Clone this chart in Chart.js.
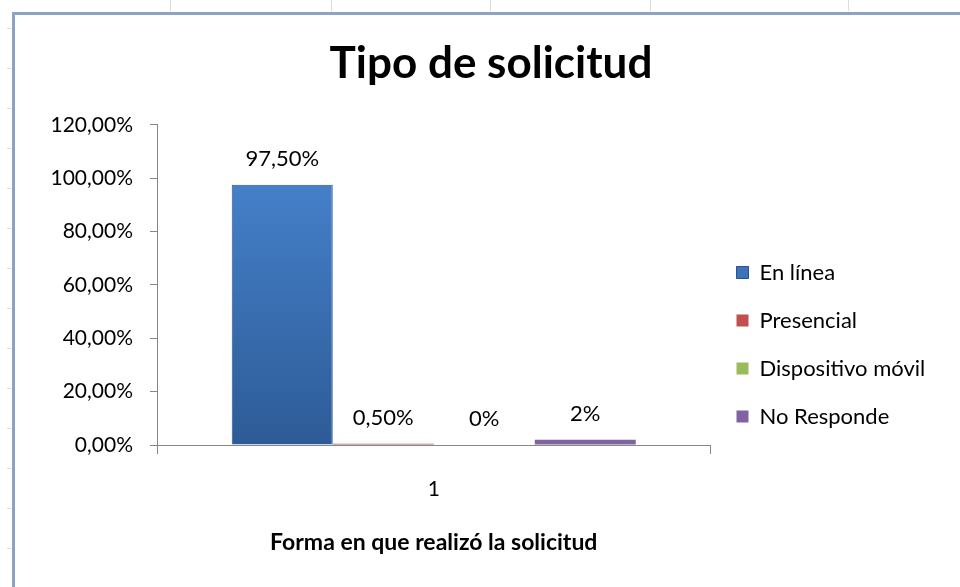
<!DOCTYPE html>
<html>
<head>
<meta charset="utf-8">
<title>Tipo de solicitud</title>
<script src="https://cdn.jsdelivr.net/npm/chart.js@4.4.1/dist/chart.umd.min.js"></script>
<style>
    html, body { margin: 0; padding: 0; background: #fff; overflow: hidden; }
    .sheet { position: relative; width: 960px; height: 587px; }
    .frame {
        position: absolute; left: 12px; top: 12px; width: 980px; height: 600px;
        border-left: 3px solid #8aa3c6; border-top: 3px solid #8aa3c6;
    }
    .tick-top { position: absolute; top: 0; width: 1px; height: 11px; background: #d6dbe4; }
    .tick-left { position: absolute; left: 7px; width: 4px; height: 1px; background: #d6dbe4; }
    #chart { position: absolute; left: 0; top: 0; }
</style>
</head>
<body>
<div class="sheet" id="sheet">
    <div class="frame"></div>
    <canvas id="chart" width="960" height="587"></canvas>
</div>

<script>
// Chart data
const chartTitle = 'Tipo de solicitud';
const xAxisTitle = 'Forma en que realizó la solicitud';
const categories = ['1'];
const seriesNames = ['En línea', 'Presencial', 'Dispositivo móvil', 'No Responde'];
const seriesValues = [97.5, 0.5, 0, 2];
const valueLabels = ['97,50%', '0,50%', '0%', '2%'];
const seriesColors = ['#3d72b8', '#c0504d', '#9bbb59', '#8064a2'];
const yTicks = [0, 20, 40, 60, 80, 100, 120];

// Spreadsheet grid fragments around the chart object
function drawSheetTicks() {
    const sheet = document.getElementById('sheet');
    [170, 331, 490, 650, 848].forEach(x => {
        const t = document.createElement('div');
        t.className = 'tick-top';
        t.style.left = x + 'px';
        sheet.insertBefore(t, sheet.firstChild);
    });
    for (let y = 28; y < 587; y += 40) {
        const t = document.createElement('div');
        t.className = 'tick-left';
        t.style.top = y + 'px';
        sheet.insertBefore(t, sheet.firstChild);
    }
}

// Excel-like shading for the big bar
function barFill(index) {
    return function(context) {
        const chart = context.chart;
        const area = chart.chartArea;
        if (!area || index !== 0) return seriesColors[index];
        const g = chart.ctx.createLinearGradient(0, area.top, 0, area.bottom);
        g.addColorStop(0, '#4a88d4');
        g.addColorStop(1, '#2d5b97');
        return g;
    };
}

// Value labels above the bars
const valueLabelPlugin = {
    id: 'valueLabels',
    afterDatasetsDraw(chart) {
        const ctx = chart.ctx;
        ctx.save();
        ctx.font = '22px Lato';
        ctx.fillStyle = '#000';
        ctx.textAlign = 'center';
        ctx.textBaseline = 'middle';
        chart.data.datasets.forEach((ds, i) => {
            const meta = chart.getDatasetMeta(i);
            meta.data.forEach(bar => {
                ctx.fillText(valueLabels[i], bar.x, bar.y - 26);
            });
        });
        ctx.restore();
    }
};

document.addEventListener('DOMContentLoaded', function() {
    drawSheetTicks();

    const datasets = seriesNames.map((name, i) => ({
        label: name,
        data: [seriesValues[i]],
        backgroundColor: barFill(i),
        borderColor: i === 0 ? '#2a5189' : seriesColors[i],
        borderWidth: i === 0 ? 1 : 0,
        categoryPercentage: 0.73,
        barPercentage: 1
    }));

    new Chart(document.getElementById('chart'), {
        type: 'bar',
        data: { labels: categories, datasets: datasets },
        plugins: [valueLabelPlugin],
        options: {
            responsive: false,
            animation: false,
            layout: { padding: { left: 52, right: 30, top: 0, bottom: 0 } },
            plugins: {
                title: {
                    display: true,
                    text: chartTitle,
                    color: '#000',
                    font: { family: 'Lato', size: 44, weight: 'bold' },
                    padding: { top: 37, bottom: 35 }
                },
                legend: {
                    position: 'right',
                    title: { display: true, text: '', font: { size: 10 }, padding: { top: 90, bottom: 0 } },
                    labels: {
                        color: '#000',
                        font: { family: 'Lato', size: 22 },
                        boxWidth: 12,
                        boxHeight: 12,
                        padding: 26
                    }
                },
                tooltip: { enabled: false }
            },
            scales: {
                x: {
                    afterFit: function(scale) { scale.height = 142; },
                    grid: {
                        drawOnChartArea: false,
                        drawTicks: true,
                        tickLength: 9,
                        color: '#868686'
                    },
                    border: { color: '#868686' },
                    ticks: {
                        color: '#000',
                        font: { family: 'Lato', size: 21 },
                        padding: 23
                    },
                    title: {
                        display: true,
                        text: xAxisTitle,
                        color: '#000',
                        font: { family: 'Lato', size: 23, weight: 'bold' },
                        padding: { top: 0, bottom: 31 }
                    }
                },
                y: {
                    min: yTicks[0],
                    max: yTicks[yTicks.length - 1],
                    afterFit: function(scale) { scale.width = 105; },
                    afterBuildTicks: function(scale) {
                        scale.ticks = yTicks.map(v => ({ value: v }));
                    },
                    grid: {
                        drawOnChartArea: false,
                        drawTicks: true,
                        tickLength: 7,
                        color: '#868686'
                    },
                    border: { color: '#868686' },
                    ticks: {
                        color: '#000',
                        font: { family: 'Lato', size: 21 },
                        padding: 17,
                        callback: function(value) {
                            return value.toFixed(2).replace('.', ',') + '%';
                        }
                    }
                }
            }
        }
    });
});
</script>
</body>
</html>
